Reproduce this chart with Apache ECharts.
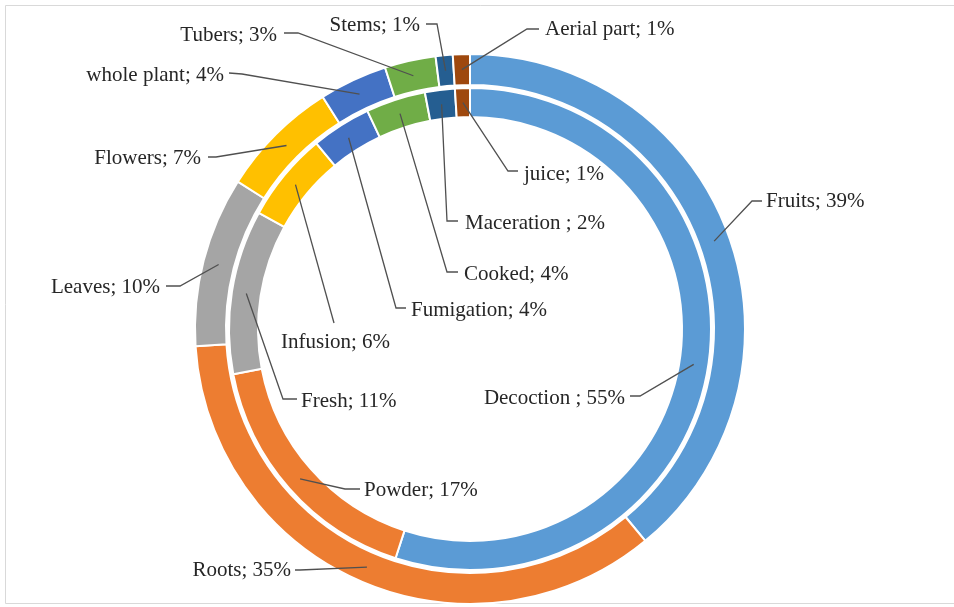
<!DOCTYPE html>
<html>
<head>
<meta charset="utf-8">
<script src="https://cdn.jsdelivr.net/npm/echarts@6/dist/echarts.min.js"></script>
<style>
  html, body { margin: 0; padding: 0; background: #ffffff; }
  #chart { width: 954px; height: 607px; }
</style>
</head>
<body>
<div id="chart"></div>
<script>
// Plant parts used (outer ring)
const partNames = ['Fruits', 'Roots', 'Leaves', 'Flowers', 'whole plant', 'Tubers', 'Stems', 'Aerial part'];
const partValues = [39, 35, 10, 7, 4, 3, 1, 1];

// Modes of preparation (inner ring)
const prepNames = ['Decoction ', 'Powder', 'Fresh', 'Infusion', 'Fumigation', 'Cooked', 'Maceration ', 'juice'];
const prepValues = [55, 17, 11, 6, 4, 4, 2, 1];

// Slice colours, shared by both rings
const palette = ['#5B9BD5', '#ED7D31', '#A5A5A5', '#FFC000', '#4472C4', '#70AD47', '#255E91', '#9E480E'];

// Ring geometry
const cx = 470, cy = 329;
const outerRadius = [244, 275];
const innerRadius = [212, 241];

// Label placement: text anchor [x, y, align] and leader-line elbow points
const partLabelPos = [
  { at: [766, 201, 'left'],  line: [[752, 201], [762, 201]] },
  { at: [291, 570, 'right'], line: [[300, 570], [295, 570]] },
  { at: [160, 287, 'right'], line: [[180, 286], [166, 286]] },
  { at: [201, 158, 'right'], line: [[216, 157], [208, 157]] },
  { at: [224, 75,  'right'], line: [[242, 74],  [229, 73]] },
  { at: [277, 35,  'right'], line: [[298, 33],  [284, 33]] },
  { at: [420, 25,  'right'], line: [[437, 24],  [426, 24]] },
  { at: [545, 29,  'left'],  line: [[527, 29],  [539, 29]] }
];
const prepLabelPos = [
  { at: [625, 398, 'right'], line: [[640, 396], [630, 396]] },
  { at: [364, 490, 'left'],  line: [[345, 489], [360, 489]] },
  { at: [301, 401, 'left'],  line: [[283, 399], [297, 399]] },
  { at: [281, 342, 'left'],  line: [[334, 323], [334, 323]] },
  { at: [411, 310, 'left'],  line: [[396, 308], [406, 308]] },
  { at: [464, 274, 'left'],  line: [[447, 272], [458, 272]] },
  { at: [465, 223, 'left'],  line: [[447, 221], [458, 221]] },
  { at: [524, 174, 'left'],  line: [[508, 171], [518, 171]] }
];

// Point on the middle of a slice, from the data (clockwise from 12 o'clock)
function sliceMid(values, idx, r) {
  const total = values.reduce((a, b) => a + b, 0);
  let before = 0;
  for (let i = 0; i < idx; i++) before += values[i];
  const theta = 2 * Math.PI * (before + values[idx] / 2) / total;
  return [cx + r * Math.sin(theta), cy - r * Math.cos(theta)];
}

function makeLabelLayout(values, positions, midR) {
  return function (params) {
    const p = positions[params.dataIndex];
    const start = sliceMid(values, params.dataIndex, midR);
    return {
      x: p.at[0],
      y: p.at[1],
      align: p.at[2],
      verticalAlign: 'middle',
      labelLinePoints: [start, p.line[0], p.line[1]]
    };
  };
}

const labelStyle = {
  show: true,
  position: 'outside',
  formatter: (p) => p.name + '; ' + p.value + '%',
  fontFamily: '"Liberation Serif", "Times New Roman", serif',
  fontSize: 21,
  color: '#262626',
  overflow: 'none'
};
const lineStyle = { show: true, lineStyle: { color: '#505050', width: 1.3 } };

function ringData(names, values, filled) {
  return names.map((n, i) => ({
    name: n,
    value: values[i],
    itemStyle: { color: filled ? palette[i] : 'rgba(0,0,0,0)' }
  }));
}

// Coloured ring (no labels)
function ringSeries(name, radius, names, values) {
  return {
    name: name,
    type: 'pie',
    z: 2,
    center: [cx, cy],
    radius: radius,
    startAngle: 90,
    clockwise: true,
    silent: true,
    itemStyle: { borderColor: '#ffffff', borderWidth: 2 },
    label: { show: false },
    labelLine: { show: false },
    data: ringData(names, values, true)
  };
}

// Transparent copy of the ring that carries labels and leader lines above the slices
function labelSeries(name, radius, names, values, positions) {
  return {
    name: name + ' labels',
    type: 'pie',
    z: 5,
    center: [cx, cy],
    radius: radius,
    startAngle: 90,
    clockwise: true,
    silent: true,
    avoidLabelOverlap: false,
    itemStyle: { borderWidth: 0 },
    label: labelStyle,
    labelLine: lineStyle,
    labelLayout: makeLabelLayout(values, positions, (radius[0] + radius[1]) / 2),
    data: ringData(names, values, false)
  };
}

const chart = echarts.init(document.getElementById('chart'), null, { renderer: 'canvas' });
chart.setOption({
  backgroundColor: '#ffffff',
  animation: false,
  graphic: [{
    type: 'rect',
    shape: { x: 5.5, y: 5.5, width: 1000, height: 598 },
    style: { fill: 'none', stroke: '#d9d9d9', lineWidth: 1 },
    silent: true,
    z: -1
  }],
  series: [
    ringSeries('Parts', outerRadius, partNames, partValues),
    ringSeries('Preparation', innerRadius, prepNames, prepValues),
    labelSeries('Parts', outerRadius, partNames, partValues, partLabelPos),
    labelSeries('Preparation', innerRadius, prepNames, prepValues, prepLabelPos)
  ]
});
</script>
</body>
</html>
